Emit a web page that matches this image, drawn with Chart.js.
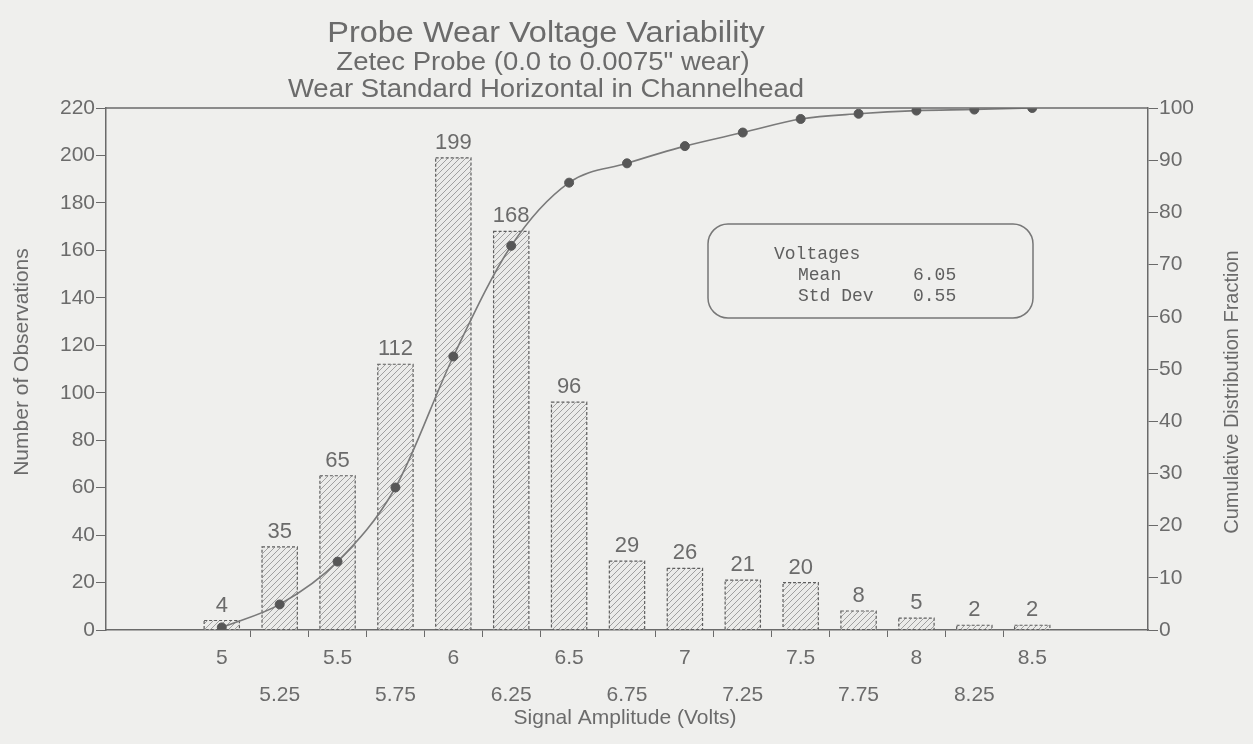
<!DOCTYPE html>
<html>
<head>
<meta charset="utf-8">
<script src="https://cdn.jsdelivr.net/npm/chart.js@4.4.1/dist/chart.umd.min.js"></script>
<style>
  html, body { margin: 0; padding: 0; background: #efefed; }
  #wrap { width: 1253px; height: 744px; }
</style>
</head>
<body>
<div id="wrap"><canvas id="chart" width="1253" height="744"></canvas></div>
<script>
// signal amplitude bins (volts)
const voltages = [5, 5.25, 5.5, 5.75, 6, 6.25, 6.5, 6.75, 7, 7.25, 7.5, 7.75, 8, 8.25, 8.5];
// number of observations per bin
const counts = [4, 35, 65, 112, 199, 168, 96, 29, 26, 21, 20, 8, 5, 2, 2];
// cumulative distribution (percent)
const cumulative = [0.5, 4.9, 13.1, 27.3, 52.4, 73.6, 85.7, 89.4, 92.7, 95.3, 97.9, 98.9, 99.5, 99.7, 100];

const titleLines = ['Probe Wear Voltage Variability', 'Zetec Probe (0.0 to 0.0075" wear)', 'Wear Standard Horizontal in Channelhead'];
const statsTitle = 'Voltages';
const statsRows = [['Mean', '6.05'], ['Std Dev', '0.55']];

const FONT = "'Liberation Sans', Arial, sans-serif";
const MONO = "'Liberation Mono', 'DejaVu Sans Mono', monospace";
const INK = '#6b6b6b';
const LINE = '#6a6a6a';

function makeHatch() {
  const c = document.createElement('canvas');
  c.width = 6; c.height = 6;
  const g = c.getContext('2d');
  g.fillStyle = '#ebebe9';
  g.fillRect(0, 0, 6, 6);
  g.strokeStyle = '#a0a0a0';
  g.lineWidth = 1;
  g.beginPath();
  g.moveTo(0, 6); g.lineTo(6, 0);
  g.moveTo(-1, 1); g.lineTo(1, -1);
  g.moveTo(5, 7); g.lineTo(7, 5);
  g.stroke();
  return g.createPattern(c, 'repeat');
}

// text stretched a little wider, like the scanned original
function wideText(ctx, text, x, y, size, stretch) {
  ctx.save();
  ctx.translate(x, y);
  ctx.scale(stretch, 1);
  ctx.font = size + 'px ' + FONT;
  ctx.fillText(text, 0, 0);
  ctx.restore();
}

const decor = {
  id: 'decor',
  afterDatasetDraw(chart, args) {
    if (args.index !== 1) return;
    const ctx = chart.ctx;
    ctx.save();
    ctx.strokeStyle = '#5e5e5e';
    ctx.lineWidth = 1.2;
    ctx.setLineDash([3, 2]);
    args.meta.data.forEach((bar) => {
      const p = bar.getProps(['x', 'y', 'base', 'width'], true);
      ctx.strokeRect(p.x - p.width / 2, p.y, p.width, p.base - p.y);
    });
    ctx.setLineDash([]);
    ctx.fillStyle = INK;
    ctx.font = '22px ' + FONT;
    ctx.textAlign = 'center';
    ctx.textBaseline = 'bottom';
    args.meta.data.forEach((bar, i) => {
      ctx.fillText(String(counts[i]), bar.x, bar.y - 4);
    });
    ctx.restore();
  },
  afterDraw(chart) {
    const ctx = chart.ctx;
    const area = chart.chartArea;
    ctx.save();

    // frame top line
    ctx.strokeStyle = LINE;
    ctx.lineWidth = 1.5;
    ctx.beginPath();
    ctx.moveTo(area.left, area.top);
    ctx.lineTo(area.right, area.top);
    ctx.stroke();

    // titles
    ctx.fillStyle = INK;
    ctx.textAlign = 'center';
    ctx.textBaseline = 'alphabetic';
    wideText(ctx, titleLines[0], 546, 42, 29, 1.12);
    wideText(ctx, titleLines[1], 543, 70, 25, 1.1);
    wideText(ctx, titleLines[2], 546, 97, 25, 1.1);

    // axis titles
    ctx.textBaseline = 'middle';
    ctx.font = '21px ' + FONT;
    ctx.fillText('Signal Amplitude (Volts)', 625, 718);
    ctx.save();
    ctx.translate(22, 362);
    ctx.rotate(-Math.PI / 2);
    ctx.fillText('Number of Observations', 0, 0);
    ctx.restore();
    ctx.save();
    ctx.font = '20px ' + FONT;
    ctx.translate(1232, 392);
    ctx.rotate(-Math.PI / 2);
    ctx.fillText('Cumulative Distribution Fraction', 0, 0);
    ctx.restore();

    // stats box
    const bx = 708, by = 224, bw = 325, bh = 94, r = 20;
    ctx.strokeStyle = '#777';
    ctx.lineWidth = 1.5;
    ctx.beginPath();
    ctx.roundRect(bx, by, bw, bh, r);
    ctx.stroke();
    ctx.textAlign = 'left';
    ctx.textBaseline = 'alphabetic';
    ctx.fillStyle = '#5f5f5f';
    ctx.font = '18px ' + MONO;
    ctx.fillText(statsTitle, 774, 259);
    statsRows.forEach((row, i) => {
      ctx.fillText(row[0], 798, 280 + i * 21);
      ctx.fillText(row[1], 913, 280 + i * 21);
    });
    ctx.restore();
  }
};

new Chart(document.getElementById('chart'), {
  data: {
    datasets: [
      {
        type: 'line',
        label: 'Cumulative',
        data: voltages.map((v, i) => ({ x: v, y: cumulative[i] })),
        yAxisID: 'y2',
        order: 0,
        borderColor: '#7a7a7a',
        borderWidth: 1.6,
        cubicInterpolationMode: 'monotone',
        pointRadius: 4.5,
        pointBackgroundColor: '#575757',
        pointBorderColor: '#575757',
        pointBorderWidth: 1
      },
      {
        type: 'bar',
        label: 'Observations',
        data: voltages.map((v, i) => ({ x: v, y: counts[i] })),
        yAxisID: 'y',
        order: 1,
        backgroundColor: makeHatch(),
        borderWidth: 0,
        barPercentage: 0.61,
        categoryPercentage: 1
      }
    ]
  },
  options: {
    responsive: false,
    animation: false,
    devicePixelRatio: 1,
    layout: { padding: { top: 108, left: 0, right: 0, bottom: 0 } },
    plugins: { legend: { display: false }, tooltip: { enabled: false } },
    scales: {
      x: {
        type: 'linear',
        offset: false,
        min: 4.5,
        max: 9,
        afterFit: (s) => { s.height = 114; },
        ticks: {
          stepSize: 0.25,
          autoSkip: false,
          maxRotation: 0,
          padding: 3,
          color: INK,
          font: { family: FONT, size: 21, lineHeight: 1.75 },
          callback: (value) => {
            const i = voltages.indexOf(value);
            if (i < 0) return '';
            return i % 2 === 0 ? [String(value)] : ['', String(value)];
          }
        },
        grid: {
          offset: true,
          drawOnChartArea: false,
          tickLength: 7,
          color: (c) => (c.tick && c.tick.value >= 5.25 && c.tick.value <= 8.5) ? LINE : 'rgba(0,0,0,0)'
        },
        border: { color: LINE, width: 1.5 }
      },
      y: {
        position: 'left',
        min: 0,
        max: 220,
        afterFit: (s) => { s.width = 106; },
        ticks: { stepSize: 20, padding: 1, color: INK, font: { family: FONT, size: 21 } },
        grid: { drawOnChartArea: false, tickLength: 10, color: LINE },
        border: { color: LINE, width: 1.5 }
      },
      y2: {
        position: 'right',
        min: 0,
        max: 100,
        afterFit: (s) => { s.width = 105; },
        ticks: { stepSize: 10, padding: 1, color: INK, font: { family: FONT, size: 21 } },
        grid: { drawOnChartArea: false, tickLength: 10, color: LINE },
        border: { color: LINE, width: 1.5 }
      }
    }
  },
  plugins: [decor]
});
</script>
</body>
</html>
